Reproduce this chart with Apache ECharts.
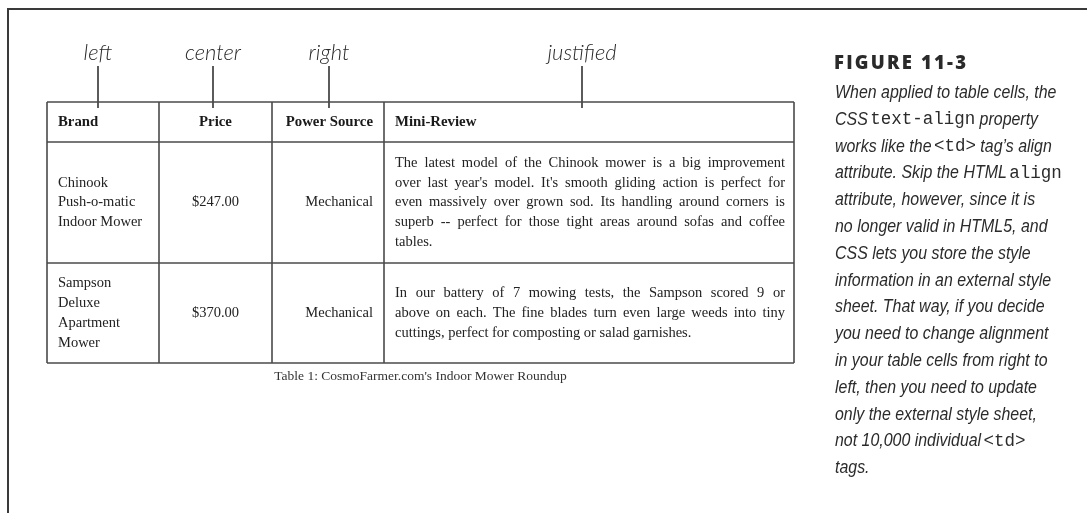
<!DOCTYPE html>
<html><head><meta charset="utf-8">
<script src="https://cdn.jsdelivr.net/npm/echarts@6/dist/echarts.min.js"></script>
<style>html,body{margin:0;padding:0;background:#fff}#c{width:1087px;height:513px}</style>
</head><body><div id="c"></div>
<script>
// ---- content ----
const alignLabels = ['left', 'center', 'right', 'justified'];
const headers = ['Brand', 'Price', 'Power Source', 'Mini-Review'];
const brands = [['Chinook', 'Push-o-matic', 'Indoor Mower'], ['Sampson', 'Deluxe', 'Apartment', 'Mower']];
const prices = ['$247.00', '$370.00'];
const sources = ['Mechanical', 'Mechanical'];
const reviews = [
  ["The latest model of the Chinook mower is a big improvement",
   "over last year's model. It's smooth gliding action is perfect for",
   "even massively over grown sod. Its handling around corners is",
   "superb -- perfect for those tight areas around sofas and coffee",
   "tables."],
  ["In our battery of 7 mowing tests, the Sampson scored 9 or",
   "above on each. The fine blades turn even large weeds into tiny",
   "cuttings, perfect for composting or salad garnishes."]
];
const tableCaption = "Table 1: CosmoFarmer.com's Indoor Mower Roundup";
const figureTitle = 'FIGURE 11-3';
const noteLines = [
  [['i', 'When applied to table cells, the']],
  [['i', 'CSS '], ['c', 'text-align'], ['i', ' property']],
  [['i', 'works like the '], ['c', '<td>'], ['i', ' tag\u2019s align']],
  [['i', 'attribute. Skip the HTML '], ['c', 'align']],
  [['i', 'attribute, however, since it is']],
  [['i', 'no longer valid in HTML5, and']],
  [['i', 'CSS lets you store the style']],
  [['i', 'information in an external style']],
  [['i', 'sheet. That way, if you decide']],
  [['i', 'you need to change alignment']],
  [['i', 'in your table cells from right to']],
  [['i', 'left, then you need to update']],
  [['i', 'only the external style sheet,']],
  [['i', 'not 10,000 individual '], ['c', '<td>']],
  [['i', 'tags.']]
];

// ---- layout ----
const colX = [47, 159, 272, 384, 794];
const rowY = [102, 142, 263, 363];
const pad = 11;
const lineH = 19.8;
const serif = '"Liberation Serif", "Times New Roman", serif';
const bodySize = 14.5;
const cv = document.createElement('canvas').getContext('2d');
function fontStr(o) { return (o.fontStyle || 'normal') + ' ' + (o.fontWeight || 'normal') + ' ' + o.fontSize + 'px ' + o.fontFamily; }
function measure(o, s) { cv.font = fontStr(o); return cv.measureText(s).width; }

const els = [];
function text(x, y, s, st, align, sx) {
  els.push({ type: 'text', x: x, y: y, scaleX: sx || 1, silent: true, style: Object.assign({ text: s, textAlign: align || 'left', textVerticalAlign: 'middle', fill: '#222' }, st) });
}
function line(x1, y1, x2, y2, stroke, w) {
  els.push({ type: 'line', silent: true, shape: { x1: x1, y1: y1, x2: x2, y2: y2 }, style: { stroke: stroke, lineWidth: w } });
}

// outer frame
line(7, 9, 1087, 9, '#3a3a3a', 2);
line(8, 9, 8, 513, '#3a3a3a', 2);

// alignment labels + leaders
const labelX = [98, 213, 329, 582];
const labStyle = { fontSize: 22, fontFamily: 'Lato, "Open Sans", sans-serif', fontStyle: 'italic', fontWeight: 300, fill: '#2a2a2a' };
alignLabels.forEach((l, i) => {
  text(labelX[i], 53, l, labStyle, 'center');
  line(labelX[i], 66, labelX[i], 108, '#333', 1.6);
});

// table grid
const gridC = '#4a4a4a';
rowY.forEach(y => line(colX[0], y, colX[colX.length - 1], y, gridC, 1.6));
colX.forEach(x => line(x, rowY[0], x, rowY[rowY.length - 1], gridC, 1.6));

// header
const hdr = { fontSize: 14.8, fontFamily: serif, fontWeight: 'bold', fill: '#1a1a1a' };
const hy = (rowY[0] + rowY[1]) / 2;
text(colX[0] + pad, hy, headers[0], hdr, 'left');
text((colX[1] + colX[2]) / 2, hy, headers[1], hdr, 'center');
text(colX[3] - pad, hy, headers[2], hdr, 'right');
text(colX[3] + pad, hy, headers[3], hdr, 'left');

// body
const body = { fontSize: bodySize, fontFamily: serif, fill: '#222' };
const rx0 = colX[3] + pad, rx1 = colX[4] - 9;
for (let r = 0; r < brands.length; r++) {
  const cy = (rowY[r + 1] + rowY[r + 2]) / 2;
  const b = brands[r];
  b.forEach((s, k) => text(colX[0] + pad, cy + (k - (b.length - 1) / 2) * lineH, s, body, 'left'));
  text((colX[1] + colX[2]) / 2, cy, prices[r], body, 'center');
  text(colX[3] - pad, cy, sources[r], body, 'right');
  const rv = reviews[r];
  rv.forEach((ln, k) => {
    const y = cy + (k - (rv.length - 1) / 2) * lineH;
    const words = ln.split(' ');
    if (k === rv.length - 1 || words.length < 2) { text(rx0, y, ln, body, 'left'); return; }
    const ws = words.map(w => measure(body, w));
    const tot = ws.reduce((a, c) => a + c, 0);
    const gap = (rx1 - rx0 - tot) / (words.length - 1);
    let x = rx0;
    words.forEach((w, j) => { text(x, y, w, body, 'left'); x += ws[j] + gap; });
  });
}

// caption
text((colX[0] + colX[4]) / 2, 376, tableCaption, { fontSize: 13.5, fontFamily: serif, fill: '#333' }, 'center');

// figure title with letter spacing
const ft = { fontSize: 18.5, fontFamily: '"Open Sans", Lato, sans-serif', fontWeight: 800, fill: '#2a2a2a' };
let fx = 834;
for (const ch of figureTitle) { text(fx, 64, ch, ft, 'left'); fx += measure(ft, ch) + 2.2; }

// side note
const segSt = {
  i: { fontSize: 18, fontFamily: '"Liberation Sans", Arial, sans-serif', fontStyle: 'italic', fill: '#2b2b2b' },
  c: { fontSize: 17.5, fontFamily: '"Liberation Mono", "DejaVu Sans Mono", monospace', fill: '#2b2b2b' }
};
const segScale = { i: 0.885, c: 1 };
noteLines.forEach((segs, i) => {
  const y = 93 + i * 26.8;
  let x = 835;
  segs.forEach(([k, s], j) => {
    text(x, y, s, segSt[k], 'left', segScale[k]);
    let w = measure(segSt[k], s) * segScale[k];
    if (k === 'i' && s.endsWith(' ') && j < segs.length - 1) w -= 2;
    x += w;
  });
});

const chart = echarts.init(document.getElementById('c'));
chart.setOption({ backgroundColor: '#fff', animation: false, graphic: { elements: els } });
</script></body></html>
